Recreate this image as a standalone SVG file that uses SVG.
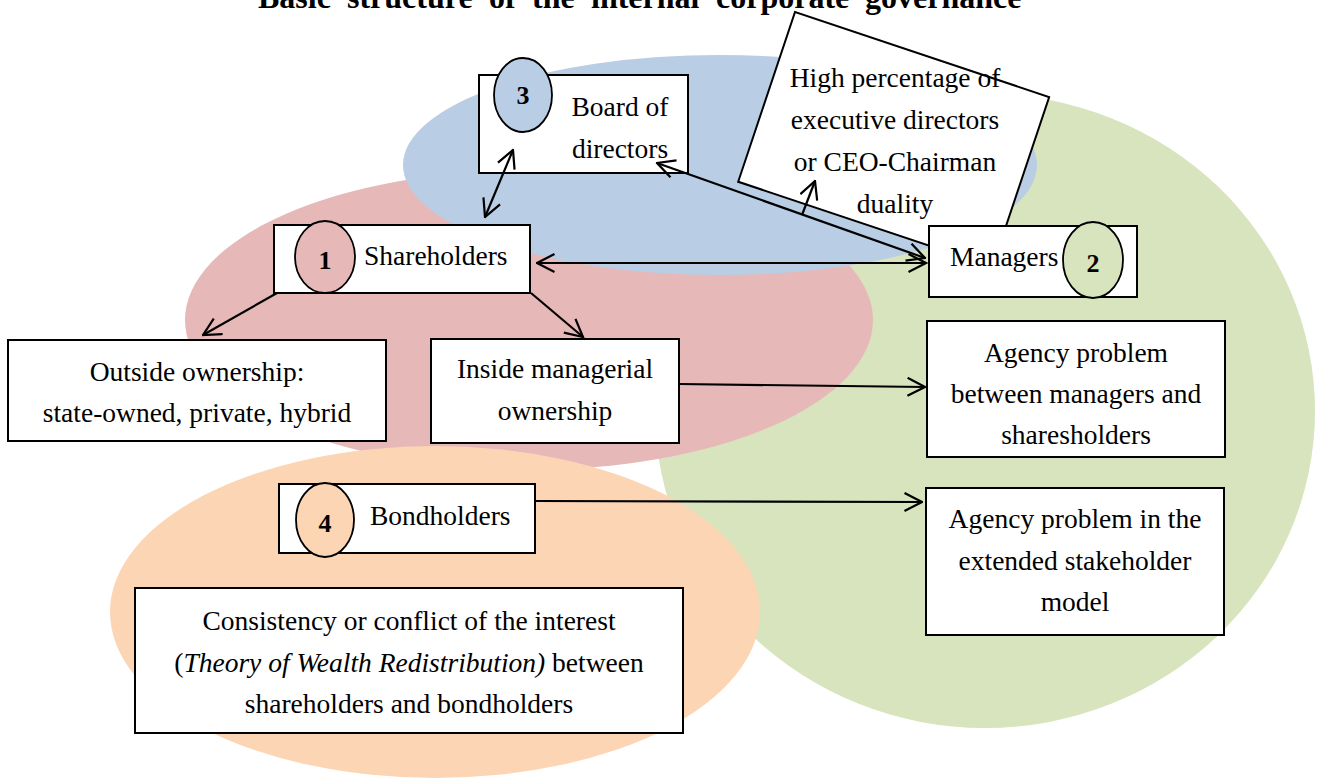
<svg xmlns="http://www.w3.org/2000/svg" width="1317" height="778" viewBox="0 0 1317 778">
<style>
text{font-family:"Liberation Serif","Times New Roman",serif;fill:#000}
.t{font-size:27.5px}
.c{text-anchor:middle}
.num{font-size:26px;font-weight:bold;text-anchor:middle}
.box{fill:#fff;stroke:#000;stroke-width:2}
.circ{stroke:#000;stroke-width:1.8}
.ln{fill:none;stroke:#000;stroke-width:2.2}
.title{font-size:32px;font-weight:bold}
</style>
<defs>
<marker id="ah" viewBox="0 0 20 20" refX="18.5" refY="10" markerWidth="20" markerHeight="20" markerUnits="userSpaceOnUse" orient="auto-start-reverse">
<path d="M1,1 L18.5,10 L1,19" fill="none" stroke="#000" stroke-width="2.2"/>
</marker>
</defs>
<rect width="1317" height="778" fill="#fff"/>
<g id="regions">
<ellipse cx="985" cy="411" rx="330" ry="317" fill="#d7e4bd"/>
<ellipse cx="529" cy="320" rx="344" ry="150" fill="#e6b9b8"/>
<ellipse cx="435" cy="612" rx="325" ry="166" fill="#fcd5b5"/>
<ellipse cx="720" cy="165" rx="317" ry="110" fill="#b9cde5"/>
</g>
<g id="title">
<text class="title" y="8"><tspan x="258">Basic</tspan><tspan x="347">structure</tspan><tspan x="489">of</tspan><tspan x="532">the</tspan><tspan x="591">internal</tspan><tspan x="716">corporate</tspan><tspan x="865">governance</tspan></text>
</g>
<g id="duality">
<rect class="box" x="0" y="0" width="268" height="179" transform="translate(795,12) rotate(18.5)"/>
<text class="t c"><tspan x="895" y="87">High percentage of</tspan><tspan x="895" y="129">executive directors</tspan><tspan x="895" y="171">or CEO-Chairman</tspan><tspan x="895" y="213">duality</tspan></text>
</g>
<g id="board">
<rect class="box" x="479" y="75" width="209" height="98"/>
<ellipse class="circ" cx="523" cy="95" rx="29" ry="37" fill="#b9cde5"/>
<text class="num" x="523" y="104">3</text>
<text class="t c"><tspan x="620" y="116">Board of</tspan><tspan x="620" y="158">directors</tspan></text>
</g>
<g id="shareholders">
<rect class="box" x="274" y="225" width="256" height="68"/>
<ellipse class="circ" cx="325" cy="257" rx="30" ry="36" fill="#e6b9b8"/>
<text class="num" x="325" y="269">1</text>
<text class="t" x="364" y="265">Shareholders</text>
</g>
<g id="managers">
<rect class="box" x="929" y="226" width="208" height="71"/>
<ellipse class="circ" cx="1093" cy="260" rx="30" ry="38" fill="#d7e4bd"/>
<text class="num" x="1093" y="272">2</text>
<text class="t" x="950" y="266">Managers</text>
</g>
<g id="outside">
<rect class="box" x="8" y="340" width="378" height="101"/>
<text class="t c"><tspan x="197" y="381">Outside ownership:</tspan><tspan x="197" y="422">state-owned, private, hybrid</tspan></text>
</g>
<g id="inside">
<rect class="box" x="431" y="339" width="248" height="104"/>
<text class="t c"><tspan x="555" y="378">Inside managerial</tspan><tspan x="555" y="420">ownership</tspan></text>
</g>
<g id="agency1">
<rect class="box" x="927" y="321" width="298" height="136"/>
<text class="t c"><tspan x="1076" y="362">Agency problem</tspan><tspan x="1076" y="403">between managers and</tspan><tspan x="1076" y="444">sharesholders</tspan></text>
</g>
<g id="bondholders">
<rect class="box" x="279" y="484" width="256" height="69"/>
<ellipse class="circ" cx="325" cy="520" rx="29" ry="37" fill="#fcd5b5"/>
<text class="num" x="325" y="532">4</text>
<text class="t" x="370" y="525">Bondholders</text>
</g>
<g id="agency2">
<rect class="box" x="926" y="488" width="298" height="147"/>
<text class="t c"><tspan x="1075" y="528">Agency problem in the</tspan><tspan x="1075" y="570">extended stakeholder</tspan><tspan x="1075" y="611">model</tspan></text>
</g>
<g id="consistency">
<rect class="box" x="135" y="588" width="548" height="145"/>
<text class="t c"><tspan x="409" y="630">Consistency or conflict of the interest</tspan><tspan x="409" y="672">(<tspan font-style="italic">Theory of Wealth Redistribution)</tspan> between</tspan><tspan x="409" y="713">shareholders and bondholders</tspan></text>
</g>
<g id="connectors">
<line class="ln" x1="485" y1="217" x2="513" y2="150" marker-start="url(#ah)" marker-end="url(#ah)"/>
<line class="ln" x1="925" y1="258" x2="657" y2="163" marker-start="url(#ah)" marker-end="url(#ah)"/>
<line class="ln" x1="537" y1="263" x2="926" y2="263" marker-start="url(#ah)" marker-end="url(#ah)"/>
<line class="ln" x1="802" y1="215" x2="815" y2="181" marker-end="url(#ah)"/>
<line class="ln" x1="277" y1="293" x2="203" y2="335" marker-end="url(#ah)"/>
<line class="ln" x1="531" y1="293" x2="583" y2="337" marker-end="url(#ah)"/>
<line class="ln" x1="679" y1="384" x2="925" y2="387" marker-end="url(#ah)"/>
<line class="ln" x1="535" y1="501" x2="922" y2="502" marker-end="url(#ah)"/>
</g>
</svg>
